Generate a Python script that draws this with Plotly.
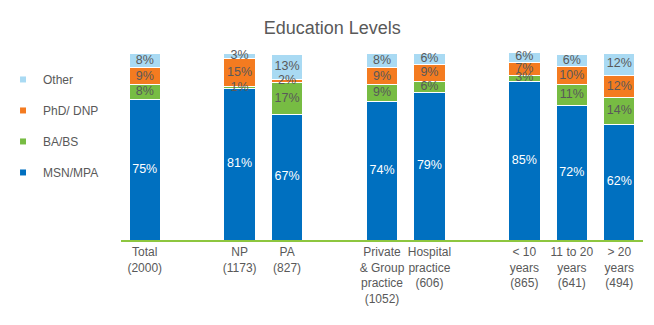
import plotly.graph_objects as go

# Category slots (empty slots separate groups)
positions = [0, 2, 3, 5, 6, 8, 9, 10]
tick_labels = [
    "Total<br>(2000)",
    "NP<br>(1173)",
    "PA<br>(827)",
    "Private<br>&amp; Group<br>practice<br>(1052)",
    "Hospital<br>practice<br>(606)",
    "&lt; 10<br>years<br>(865)",
    "11 to 20<br>years<br>(641)",
    "&gt; 20<br>years<br>(494)",
]

msn_mpa = [75, 81, 67, 74, 79, 85, 72, 62]
ba_bs = [8, 1, 17, 9, 6, 3, 11, 14]
phd_dnp = [9, 15, 2, 9, 9, 7, 10, 12]
other = [8, 3, 13, 8, 6, 6, 6, 12]

series = [
    ("MSN/MPA", msn_mpa, "#0070C0", "white"),
    ("BA/BS", ba_bs, "#77BC43", "#595959"),
    ("PhD/ DNP", phd_dnp, "#F47B20", "#595959"),
    ("Other", other, "#A9DAF3", "#595959"),
]

FONT = "Arial, Liberation Sans, sans-serif"
fig = go.Figure()
for name, vals, color, tcolor in series:
    fig.add_trace(go.Bar(
        x=positions, y=[v / 100 for v in vals],
        name=name, showlegend=False,
        marker=dict(color=color, line=dict(color="white", width=1)),
        width=0.66,
        hoverinfo="skip",
    ))

# segment labels at the middle of each stacked segment (drawn above all bars)
base = [0.0] * len(positions)
for name, vals, color, tcolor in series:
    mids = [b + v / 200 for b, v in zip(base, vals)]
    fig.add_trace(go.Scatter(
        x=positions, y=mids, mode="text", showlegend=False,
        text=[f"{v}%" for v in vals],
        textposition="middle center",
        textfont=dict(color=tcolor, size=12.5, family=FONT),
        cliponaxis=False, hoverinfo="skip",
    ))
    base = [b + v / 100 for b, v in zip(base, vals)]

# legend entries with small square markers (top-to-bottom: Other ... MSN/MPA)
for name, vals, color, tcolor in reversed(series):
    fig.add_trace(go.Scatter(
        x=[None], y=[None], mode="markers", name=name,
        legendgroup=name,
        marker=dict(symbol="square", size=6, color=color),
    ))

fig.update_layout(
    width=654, height=325,
    barmode="stack",
    paper_bgcolor="white", plot_bgcolor="white",
    margin=dict(l=121, r=11, t=53, b=85, autoexpand=False),
    title=dict(text="Education Levels", x=0.508, xanchor="center",
               y=0.915, yanchor="middle",
               font=dict(size=18, color="#595959", family=FONT)),
    font=dict(family=FONT, color="#595959", size=12),
    showlegend=True,
    legend=dict(x=-0.226, xanchor="left", y=0.936, yanchor="top",
                traceorder="grouped", tracegroupgap=12,
                font=dict(size=12, color="#595959", family=FONT),
                bgcolor="rgba(0,0,0,0)"),
    xaxis=dict(range=[-0.5, 10.5], tickmode="array", tickvals=positions,
               ticktext=tick_labels, showgrid=False, zeroline=False,
               showline=True, linecolor="#8DC63F", linewidth=1.5,
               ticks="", tickfont=dict(size=12, color="#595959", family=FONT)),
    yaxis=dict(range=[0, 1.0], visible=False, showgrid=False),
)

fig.write_html("out.html")
